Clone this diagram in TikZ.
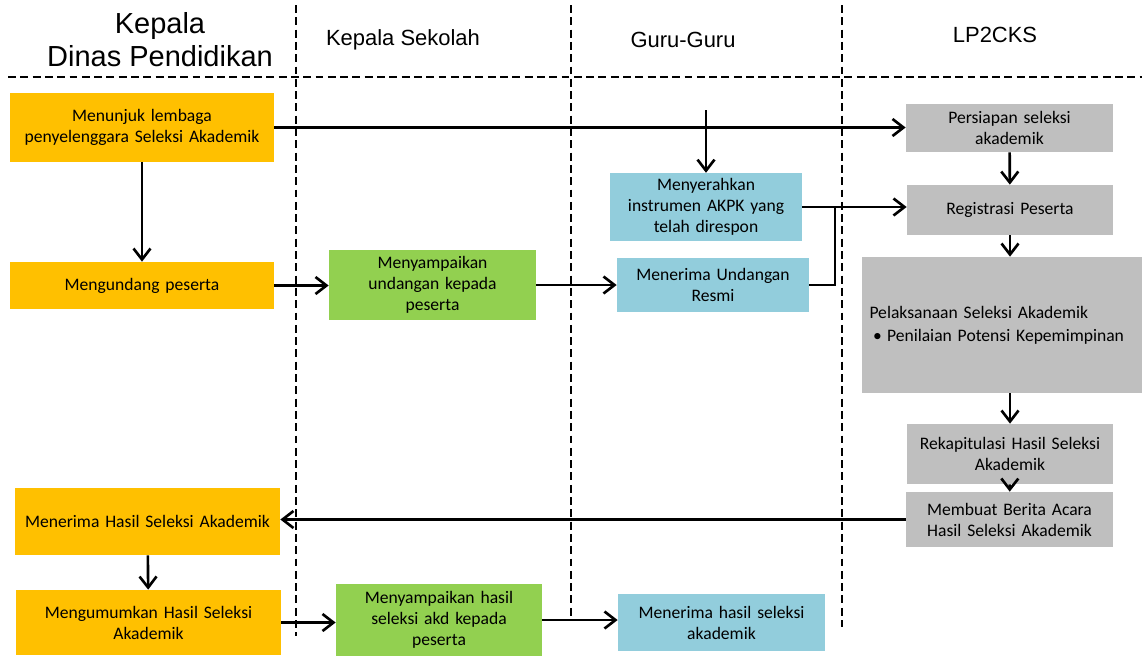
\documentclass[tikz,border=0pt]{standalone}
\usepackage{fontspec}
\setmainfont{Carlito}
\newfontfamily\headfont{Liberation Sans}
\usepackage{xcolor}
\usetikzlibrary{positioning,arrows.meta,calc}
\definecolor{kuning}{HTML}{FFC000}
\definecolor{hijau}{HTML}{92D050}
\definecolor{biru}{HTML}{92CDDC}
\definecolor{abu}{HTML}{BFBFBF}

\begin{document}
\begin{tikzpicture}[font=\fontsize{10}{12}\selectfont,
  dinas/.style={fill=kuning,inner sep=3pt,text width=#1,align=center},
  sekolah/.style={fill=hijau,inner sep=3pt,text width=#1,align=center},
  guru/.style={fill=biru,inner sep=3pt,text width=#1,align=center},
  lp/.style={fill=abu,inner sep=3pt,text width=#1,align=center},
  head/.style={font=\headfont\fontsize{12.5}{14}\selectfont},
  lane/.style={dash pattern=on 4.5pt off 2.5pt,line width=0.6pt},
  arr/.style={-{Straight Barb[length=2.2mm,width=3.4mm]},line width=1.5pt},
  ln/.style={line width=1.5pt}]
\useasboundingbox (0,0) rectangle (22.84,-13.12);
% judul kolom
\node[head,font=\headfont\fontsize{16.5}{18.7}\selectfont,align=center] (h1) at (3.20,-0.80) {Kepala\\Dinas Pendidikan};
\node[head] (h2) at (8.06,-0.80) {Kepala Sekolah};
\node[head] (h3) at (13.66,-0.80) {Guru-Guru};
\node[head] (h4) at (19.90,-0.70) {LP2CKS};
% garis
\draw[lane] (0.16,-1.54) -- (22.84,-1.54);
\draw[lane] (5.92,-0.10) -- (5.92,-12.72);
\draw[lane] (11.42,-0.10) -- (11.42,-12.40);
\draw[lane] (16.84,-0.10) -- (16.84,-12.54);
% dinas
\node[dinas=5.0cm,minimum width=5.28cm,minimum height=1.38cm] (d1) at (2.84,-2.55) {Menunjuk lembaga\\penyelenggara Seleksi Akademik};
\node[dinas=5.0cm,minimum width=5.28cm,minimum height=0.94cm] (d2) at (2.84,-5.71) {Mengundang peserta};
\node[dinas=5.0cm,minimum width=5.30cm,minimum height=1.34cm] (d3) at (2.95,-10.43) {Menerima Hasil Seleksi Akademik};
\node[dinas=5.0cm,minimum width=5.30cm,minimum height=1.30cm] (d4) at (2.97,-12.45) {Mengumumkan Hasil Seleksi\\Akademik};
% sekolah
\node[sekolah=3.9cm,minimum width=4.14cm,minimum height=1.40cm] (s1) at (8.65,-5.70) {Menyampaikan\\undangan kepada\\peserta};
\node[sekolah=3.9cm,minimum width=4.12cm,minimum height=1.44cm] (s2) at (8.78,-12.40) {Menyampaikan hasil\\seleksi akd kepada\\peserta};
% guru
\node[guru=3.6cm,minimum width=3.84cm,minimum height=1.28cm] (g1) at (14.12,-4.14) {Menyerahkan\\instrumen AKPK yang\\telah direspon};
\node[guru=3.6cm,minimum width=3.84cm,minimum height=1.08cm] (g2) at (14.26,-5.70) {Menerima Undangan\\Resmi};
\node[guru=3.9cm,minimum width=4.14cm,minimum height=1.14cm] (g3) at (14.43,-12.45) {Menerima hasil seleksi\\akademik};
% lp2cks
\node[lp=3.9cm,minimum width=4.14cm,minimum height=0.96cm] (l1) at (20.19,-2.56) {Persiapan seleksi\\akademik};
\node[lp=3.9cm,minimum width=4.12cm,minimum height=1.00cm] (l2) at (20.20,-4.20) {Registrasi Peserta};
\node[lp=5.3cm,align=left,minimum width=5.60cm,minimum height=2.72cm] (l3) at (20.04,-6.50) {Pelaksanaan Seleksi Akademik\\[1pt]
  \hspace*{2pt}\textbullet\hspace{3pt}Penilaian Potensi Kepemimpinan};
\node[lp=3.9cm,minimum width=4.12cm,minimum height=1.20cm] (l4) at (20.20,-9.08) {Rekapitulasi Hasil Seleksi\\Akademik};
\node[lp=3.9cm,minimum width=4.14cm,minimum height=1.10cm] (l5) at (20.19,-10.39) {Membuat Berita Acara\\Hasil Seleksi Akademik};
% panah
\coordinate (atas) at (14.12,-2.20);
\coordinate (sambung) at (16.70,-4.14);
\draw[arr] (d1.east) -- (d1.east -| l1.west);
\draw[arr] (atas) -- (g1.north);
\draw[arr] (d1.south) -- (d2.north);
\draw[arr] (d2.east) -- (d2.east -| s1.west);
\draw[arr] (s1.east) -- (s1.east -| g2.west);
\draw[arr] (g1.east) -- (g1.east -| l2.west);
\draw[ln] (g2.east) -| (sambung);
\draw[arr] (l1) -- (l2);
\draw[arr] (l2.south) -- (l2.south |- l3.north);
\draw[arr] (l3.south -| l4.north) -- (l4.north);
\draw[arr] (l4) -- (l5);
\draw[arr] (l5.west) -- (l5.west -| d3.east);
\draw[arr] (d3) -- (d4);
\draw[arr] (d4.east) -- (d4.east -| s2.west);
\draw[arr] (s2.east) -- (s2.east -| g3.west);
\end{tikzpicture}
\end{document}
